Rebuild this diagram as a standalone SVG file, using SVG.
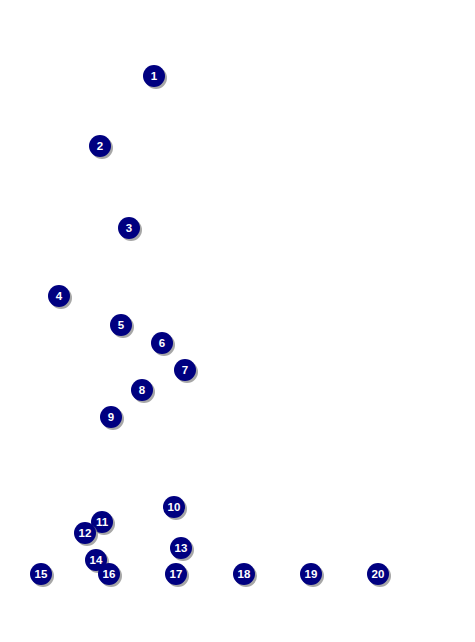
<svg xmlns="http://www.w3.org/2000/svg" width="475" height="642" viewBox="0 0 475 642">
<style>
.sh{fill:#8a8a8a;opacity:0.75}
.c{fill:#000080}
.t{fill:#fff;font-family:"Liberation Sans",Arial,sans-serif;font-weight:bold;font-size:11.5px;text-anchor:middle}
</style>
<defs>
<g id="b"><circle class="sh" cx="2" cy="2" r="11"/><circle class="c" r="11"/></g>
</defs>
<rect width="475" height="642" fill="#fff"/>
<g id="connectors"/>
<g id="n1" transform="translate(154,76)"><use href="#b"/><text class="t" y="4">1</text></g>
<g id="n2" transform="translate(100,146)"><use href="#b"/><text class="t" y="4">2</text></g>
<g id="n3" transform="translate(129,228)"><use href="#b"/><text class="t" y="4">3</text></g>
<g id="n4" transform="translate(59,296)"><use href="#b"/><text class="t" y="4">4</text></g>
<g id="n5" transform="translate(121,325)"><use href="#b"/><text class="t" y="4">5</text></g>
<g id="n6" transform="translate(162,343)"><use href="#b"/><text class="t" y="4">6</text></g>
<g id="n7" transform="translate(185,370)"><use href="#b"/><text class="t" y="4">7</text></g>
<g id="n8" transform="translate(142,390)"><use href="#b"/><text class="t" y="4">8</text></g>
<g id="n9" transform="translate(111,417)"><use href="#b"/><text class="t" y="4">9</text></g>
<g id="n10" transform="translate(174,507)"><use href="#b"/><text class="t" y="4">10</text></g>
<g id="n11" transform="translate(102,522)"><use href="#b"/><text class="t" y="4">11</text></g>
<g id="n12" transform="translate(85,533)"><use href="#b"/><text class="t" y="4">12</text></g>
<g id="n13" transform="translate(181,548)"><use href="#b"/><text class="t" y="4">13</text></g>
<g id="n14" transform="translate(96,560)"><use href="#b"/><text class="t" y="4">14</text></g>
<g id="n15" transform="translate(41,574)"><use href="#b"/><text class="t" y="4">15</text></g>
<g id="n16" transform="translate(109,574)"><use href="#b"/><text class="t" y="4">16</text></g>
<g id="n17" transform="translate(176,574)"><use href="#b"/><text class="t" y="4">17</text></g>
<g id="n18" transform="translate(244,574)"><use href="#b"/><text class="t" y="4">18</text></g>
<g id="n19" transform="translate(311,574)"><use href="#b"/><text class="t" y="4">19</text></g>
<g id="n20" transform="translate(378,574)"><use href="#b"/><text class="t" y="4">20</text></g>
</svg>
